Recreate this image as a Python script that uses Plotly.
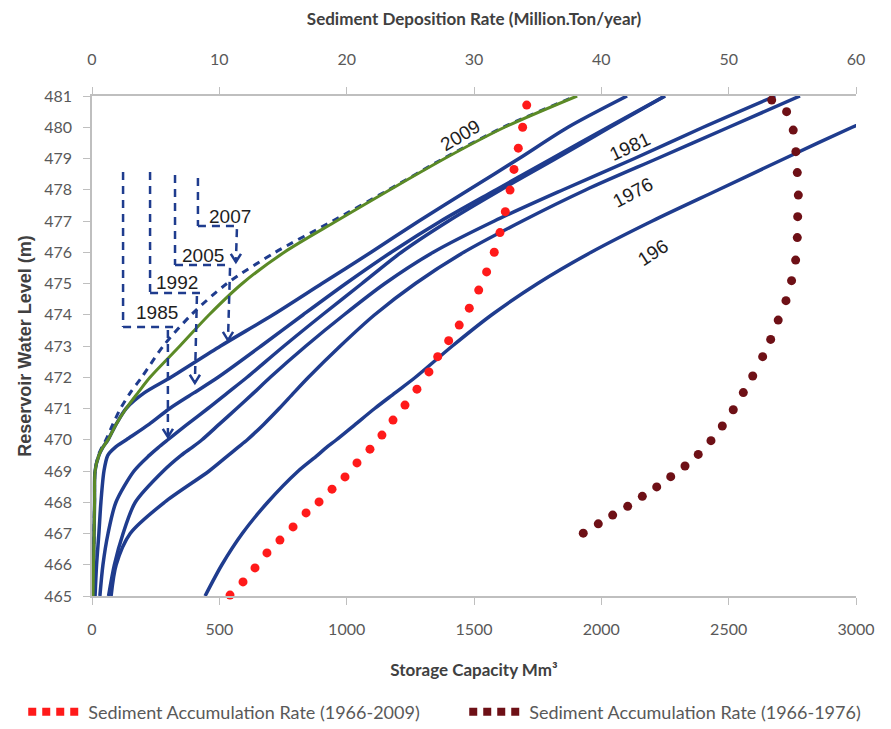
import plotly.graph_objects as go

# ---------------- data ----------------
levels = [465, 466, 467, 468, 469, 469.5, 469.75, 470, 470.5, 471, 471.5, 472,
          473, 474, 475, 476, 477, 478, 479, 480, 481]

cap_2009 = [4, 6, 8, 10, 12, 27, 42, 63, 95, 134, 180, 228, 345, 460, 590, 755, 960, 1170, 1385, 1620, 1905]
cap_2007 = [4, 6, 8, 10, 12, 25, 38, 55, 82, 112, 150, 195, 280, 390, 530, 720, 945, 1165, 1380, 1615, 1900]
cap_2005 = [4, 6, 8, 10, 12, 27, 42, 63, 95, 134, 205, 310, 505, 711, 903, 1096, 1284, 1480, 1677, 1869, 2101]
cap_1992 = [12, 18, 27, 35, 47, 62, 90, 135, 225, 305, 400, 495, 664, 829, 997, 1175, 1370, 1587, 1806, 2026, 2250]
cap_1985 = [31, 43, 63, 94, 165, 225, 260, 298, 375, 455, 532, 609, 754, 905, 1060, 1215, 1400, 1606, 1822, 2034, 2250]
cap_1981 = [65, 88, 122, 170, 280, 350, 392, 432, 500, 568, 635, 700, 840, 990, 1150, 1340, 1580, 1850, 2130, 2400, 2683]
cap_1976 = [75, 95, 150, 285, 460, 535, 572, 610, 675, 735, 792, 850, 975, 1110, 1270, 1460, 1690, 1940, 2220, 2500, 2780]
cap_1966 = [444, 510, 590, 690, 810, 885, 920, 960, 1035, 1110, 1190, 1270, 1415, 1570, 1750, 1960, 2200, 2460, 2720, 2985, 3260]

# Sediment accumulation rate (Million ton / year) vs level
acc_rate_6609 = [10.84, 11.86, 12.80, 13.74, 14.76, 15.79, 16.81, 17.83, 18.85, 19.87, 20.81, 21.83,
                 22.77, 23.64, 24.58, 25.52, 26.46, 27.15, 28.01, 28.84, 29.63, 30.37, 30.99, 31.59,
                 32.04, 32.46, 32.83, 33.14, 33.48, 33.82, 34.14]
acc_level_6609 = [465.03, 465.45, 465.90, 466.38, 466.79, 467.21, 467.66, 468.01, 468.42, 468.81, 469.26,
                  469.70, 470.15, 470.63, 471.11, 471.62, 472.17, 472.66, 473.17, 473.67, 474.21, 474.79,
                  475.37, 476.00, 476.63, 477.30, 477.99, 478.65, 479.33, 480.00, 480.71]

acc_rate_6676 = [38.58, 39.76, 40.89, 42.07, 43.22, 44.35, 45.45, 46.57, 47.61, 48.61, 49.50, 50.36,
                 51.15, 51.89, 52.67, 53.30, 53.89, 54.50, 54.94, 55.26, 55.39, 55.42, 55.47, 55.39,
                 55.28, 55.07, 54.55, 53.38]
acc_level_6676 = [467.01, 467.31, 467.59, 467.87, 468.19, 468.49, 468.82, 469.16, 469.53, 469.97, 470.44,
                  470.96, 471.51, 472.04, 472.66, 473.21, 473.83, 474.45, 475.09, 475.75, 476.47, 477.14,
                  477.83, 478.55, 479.22, 479.91, 480.50, 480.87]

x_ticks = [0, 500, 1000, 1500, 2000, 2500, 3000]
x2_ticks = [0, 10, 20, 30, 40, 50, 60]
y_ticks = list(range(465, 482))

# ---------------- style ----------------
BLUE = "#1f3c8e"
GREEN = "#5b8a26"
RED = "#ff1a1a"
DARKRED = "#6e1016"
GRAY = "#595959"
AXIS = "#bfbfbf"
LATO = "Lato, Carlito, Calibri, sans-serif"
SANS = "Liberation Sans, Arial, sans-serif"

fig = go.Figure()

solid_curves = [("1966", cap_1966), ("1976", cap_1976), ("1981", cap_1981),
                ("1985", cap_1985), ("1992", cap_1992), ("2005", cap_2005)]
for name, cap in solid_curves:
    fig.add_trace(go.Scatter(x=cap, y=levels, mode="lines", name=name, showlegend=False,
                             line=dict(color=BLUE, width=3.5, shape="spline", smoothing=0.8)))

fig.add_trace(go.Scatter(x=cap_2007, y=levels, mode="lines", name="2007", showlegend=False,
                         line=dict(color=BLUE, width=3, dash="7px,6px", shape="spline", smoothing=0.8)))
fig.add_trace(go.Scatter(x=cap_2009, y=levels, mode="lines", name="2009", showlegend=False,
                         line=dict(color=GREEN, width=3, shape="spline", smoothing=0.8)))

fig.add_trace(go.Scatter(x=acc_rate_6609, y=acc_level_6609, xaxis="x2", mode="markers",
                         showlegend=False, cliponaxis=False,
                         marker=dict(color=RED, size=9, line=dict(width=0))))
fig.add_trace(go.Scatter(x=acc_rate_6676, y=acc_level_6676, xaxis="x2", mode="markers",
                         showlegend=False, cliponaxis=False,
                         marker=dict(color=DARKRED, size=9, line=dict(width=0))))

# legend entries (dotted line symbols like the original)
fig.add_trace(go.Scatter(x=[None], y=[None], xaxis="x2", mode="lines",
                         name="Sediment Accumulation Rate (1966-2009)", legendwidth=371,
                         line=dict(color=RED, width=8, dash="8px,6px")))
fig.add_trace(go.Scatter(x=[None], y=[None], xaxis="x2", mode="lines",
                         name="Sediment Accumulation Rate (1966-1976)", legendwidth=340,
                         line=dict(color=DARKRED, width=8, dash="8px,6px")))

# ---------------- callouts ----------------
# (label, bar_x, bar_top, bar_bottom, underline_end, lead_x0, lead_y0, tip_x, tip_y, text_x, text_y)
callouts = [
    ("1985", 122, 478.57, 473.61, 334, 298, 473.51, 298, 470.09, 255, 474.06),
    ("1992", 228, 478.57, 474.70, 424, 412, 474.60, 404, 471.82, 334, 475.02),
    ("2005", 326, 478.47, 475.59, 542, 542, 475.50, 534, 473.19, 436, 475.90),
    ("2007", 416, 478.38, 476.84, 581, 569, 476.74, 565, 475.69, 542, 477.13),
]
shapes = []
annotations = []
dash_line = dict(color=BLUE, width=2.5, dash="8px,6px")
for (lab, bx, bt, bb, ue, lx0, ly0, tx, ty, txx, txy) in callouts:
    shapes.append(dict(type="line", xref="x", yref="y", x0=bx, x1=bx, y0=bt, y1=bb, line=dash_line))
    shapes.append(dict(type="line", xref="x", yref="y", x0=bx, x1=ue, y0=bb, y1=bb, line=dash_line))
    shapes.append(dict(type="line", xref="x", yref="y", x0=lx0, x1=tx, y0=ly0, y1=ty, line=dash_line))
    shapes.append(dict(type="path", xref="x", yref="y",
                       path=f"M {tx-20},{ty+0.26} L {tx},{ty} L {tx+20},{ty+0.26}",
                       line=dict(color=BLUE, width=2.5)))
    annotations.append(dict(x=txx, y=txy, xref="x", yref="y", text=lab, showarrow=False,
                            font=dict(family=SANS, size=19, color="#1e1e1e")))

# curve labels
for lab, x, y, ang in [("2009", 1445, 479.75, -31), ("1981", 2113, 479.37, -25),
                       ("1976", 2125, 477.9, -28), ("196", 2203, 476.0, -33)]:
    annotations.append(dict(x=x, y=y, xref="x", yref="y", text=lab, showarrow=False,
                            textangle=ang, font=dict(family=SANS, size=19, color="#1e1e1e")))

tickfont = dict(family=LATO, size=16, color=GRAY)
titlefont = dict(family=LATO, size=17, color="#404040", weight="bold")

# page body has an 8px default margin, so the figure is sized to fit the 891x729 window
fig.update_layout(
    width=883, height=721,
    margin=dict(l=84, r=35, t=88, b=133, autoexpand=False),
    paper_bgcolor="white", plot_bgcolor="white",
    font=dict(family=LATO, color=GRAY),
    xaxis=dict(range=[0, 3000], tickvals=x_ticks, ticks="outside", ticklen=7, tickcolor=AXIS,
               showline=True, linecolor=AXIS, linewidth=1.5, showgrid=False, zeroline=False,
               tickfont=tickfont, automargin=False, ticklabelstandoff=11,
               title=dict(text="Storage Capacity Mm³", font=titlefont, standoff=27)),
    xaxis2=dict(range=[0, 60], tickvals=x2_ticks, overlaying="x", side="top", anchor="y",
                ticks="outside", ticklen=7, tickcolor=AXIS, showline=True, linecolor=AXIS,
                linewidth=1.5, showgrid=False, zeroline=False, tickfont=tickfont, automargin=False,
                ticklabelstandoff=16,
                title=dict(text="Sediment Deposition Rate (Million.Ton/year)", font=titlefont,
                           standoff=20)),
    yaxis=dict(range=[465, 481], tickvals=y_ticks, ticks="outside", ticklen=7, tickcolor=AXIS,
               showline=True, linecolor=AXIS, linewidth=1.5, showgrid=False, zeroline=False,
               tickfont=tickfont, automargin=False, ticklabelstandoff=8,
               title=dict(text="Reservoir Water Level (m)", standoff=8,
                          font=dict(family=SANS, size=18, color="#404040", weight="bold"))),
    legend=dict(orientation="h", x=-0.090, xanchor="left", y=-0.232, yanchor="middle",
                itemwidth=55, font=dict(family=LATO, size=18, color=GRAY),
                bgcolor="rgba(0,0,0,0)", traceorder="normal"),
    shapes=shapes,
    annotations=annotations,
)

fig.write_html("out.html")
